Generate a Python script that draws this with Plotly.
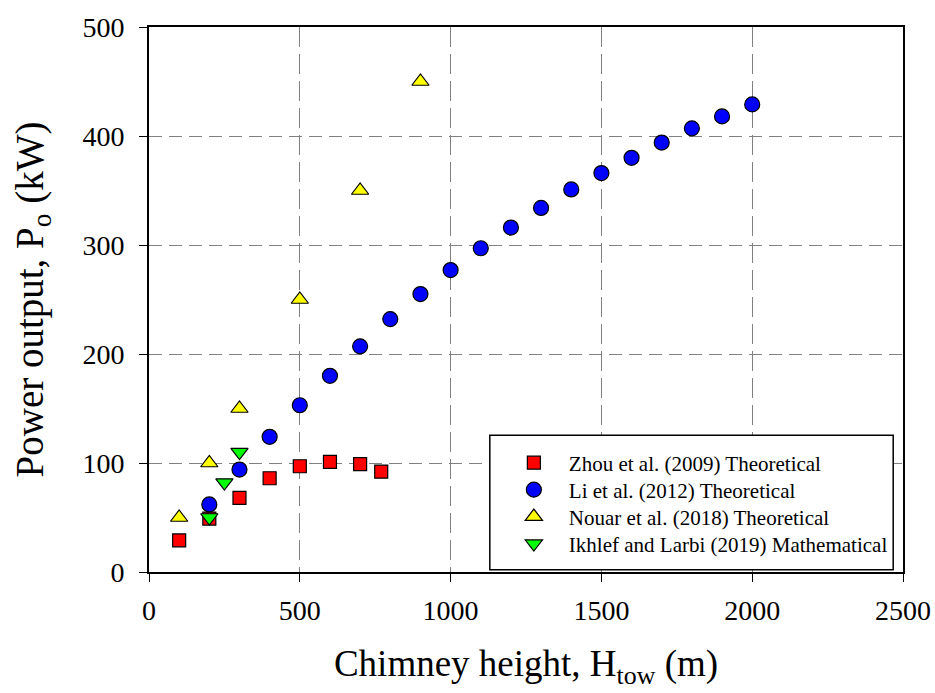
import plotly.graph_objects as go

zhou_x = [100, 200, 300, 400, 500, 600, 700, 770]
zhou_y = [29, 49, 68, 86, 97, 101, 99, 92]

li_x = [200, 300, 400, 500, 600, 700, 800, 900, 1000, 1100, 1200, 1300, 1400, 1500, 1600, 1700, 1800, 1900, 2000]
li_y = [62, 94, 124, 153, 180, 207, 232, 255, 277, 297, 316, 334, 351, 366, 380, 394, 407, 418, 429]

nouar_x = [100, 200, 300, 500, 700, 900]
nouar_y = [50, 100, 150, 250, 350, 450]

ikhlef_x = [200, 250, 300]
ikhlef_y = [50, 82, 110]

x_ticks = [0, 500, 1000, 1500, 2000, 2500]
y_ticks = [0, 100, 200, 300, 400, 500]

FONT = "Times New Roman"

fig = go.Figure()

def add(xs, ys, name, symbol, color, size, lg):
    fig.add_trace(go.Scatter(
        x=xs, y=ys, mode="markers", name=name, legend=lg,
        marker=dict(symbol=symbol, color=color, size=size,
                    line=dict(color="black", width=1.2)),
    ))

add(zhou_x, zhou_y, "Zhou et al. (2009) Theoretical", "square", "#ff0000", 13, "legend")
add(li_x, li_y, "Li et al. (2012) Theoretical", "circle", "#0000ff", 15, "legend2")
add(nouar_x, nouar_y, "Nouar et al. (2018) Theoretical", "triangle-up", "#ffff00", 15, "legend3")
add(ikhlef_x, ikhlef_y, "Ikhlef and Larbi (2019) Mathematical", "triangle-down", "#00ff00", 15, "legend4")

axis_common = dict(
    showline=True, linecolor="black", linewidth=2, mirror=True,
    ticks="outside", ticklen=8, tickcolor="black", tickwidth=1,
    showgrid=True, gridcolor="#808080", gridwidth=1,
    zeroline=False, automargin=False,
    tickfont=dict(family=FONT, size=28, color="black"),
)

fig.update_xaxes(
    range=[0, 2500], tickvals=x_ticks, ticktext=[str(v) for v in x_ticks],
    ticklabelstandoff=4, griddash="20px,7px",
    title=dict(text="Chimney height, H<sub>tow</sub> (m)",
               font=dict(family=FONT, size=37, color="black"), standoff=26),
    **axis_common,
)
fig.update_yaxes(
    range=[0, 500], tickvals=y_ticks, ticktext=[str(v) for v in y_ticks],
    ticklabelstandoff=9, griddash="13px,7px",
    title=dict(text="Power output, P<sub>o</sub> (kW)",
               font=dict(family=FONT, size=39, color="black"), standoff=27),
    **axis_common,
)

fig.add_shape(
    type="rect", xref="paper", yref="paper",
    x0=0.452, x1=0.987, y0=0.004, y1=0.251,
    line=dict(color="black", width=1.5), fillcolor="white", layer="above",
)

legend_common = dict(
    x=0.464, xanchor="left", yanchor="middle",
    bgcolor="rgba(0,0,0,0)", borderwidth=0, itemwidth=60,
    font=dict(family=FONT, size=21, color="black"),
)
row_y = [0.200, 0.1505, 0.101, 0.0514]

fig.update_layout(
    width=935, height=693,
    margin=dict(l=149, r=32, t=27, b=121),
    plot_bgcolor="white", paper_bgcolor="white",
    font=dict(family=FONT, color="black"),
    showlegend=True,
    legend=dict(y=row_y[0], **legend_common),
    legend2=dict(y=row_y[1], **legend_common),
    legend3=dict(y=row_y[2], **legend_common),
    legend4=dict(y=row_y[3], **legend_common),
)

fig.write_html("out.html")
